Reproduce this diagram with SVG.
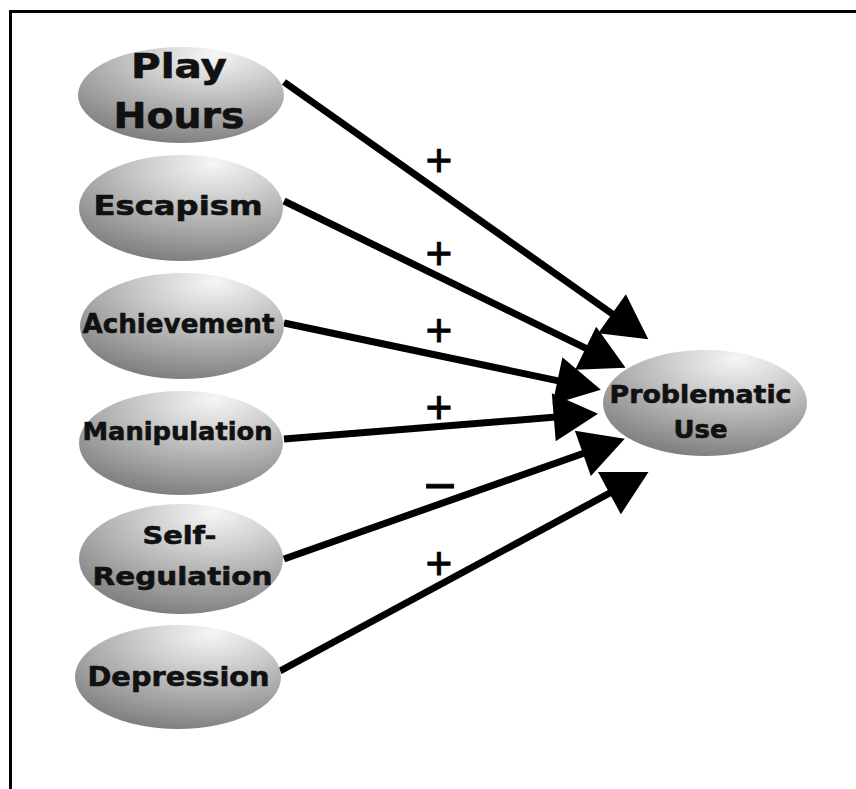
<svg xmlns="http://www.w3.org/2000/svg" width="856" height="789" viewBox="0 0 856 789">
  <defs>
    <radialGradient id="shade" cx="0.64" cy="0.12" r="0.95" fx="0.66" fy="0.08">
      <stop offset="0" stop-color="#f6f6f6"/>
      <stop offset="0.3" stop-color="#d3d3d3"/>
      <stop offset="0.7" stop-color="#a0a0a0"/>
      <stop offset="1" stop-color="#787878"/>
    </radialGradient>
    <marker id="head" markerUnits="userSpaceOnUse" markerWidth="60" markerHeight="60" viewBox="-20 -25 45 50" refX="0" refY="0" orient="auto">
      <path d="M20,0 L-17,-20 L-17,20 Z" fill="#000"/>
    </marker>
  </defs>
  <style>
    .node ellipse { fill: url(#shade); }
    .node text { font-family: "DejaVu Sans", "Liberation Sans", sans-serif; font-weight: bold; fill: #111; stroke: #111; stroke-width: 0.6; stroke-linejoin: round; text-anchor: middle; }
    .edge { stroke: #000; stroke-width: 7; fill: none; marker-end: url(#head); }
    .sign { font-family: "Liberation Sans", Arial, sans-serif; fill: #000; stroke: #000; stroke-width: 0.8; text-anchor: middle; }
  </style>

  <rect width="856" height="789" fill="#fff"/>
  <!-- frame (open at the right and bottom edges) -->
  <path d="M10.5,789 V11.5 H856" fill="none" stroke="#000" stroke-width="3"/>

  <!-- connectors -->
  <g id="connectors">
    <line class="edge" x1="284" y1="82" x2="628.7" y2="325.5"/>
    <line class="edge" x1="284" y1="201" x2="604" y2="357.2"/>
    <line class="edge" x1="284" y1="323" x2="577.4" y2="384.9"/>
    <line class="edge" x1="284" y1="439" x2="574.1" y2="415.6"/>
    <line class="edge" x1="284" y1="559" x2="602.1" y2="446.7"/>
    <line class="edge" x1="280" y1="671" x2="627.4" y2="483.5"/>
    <text class="sign" x="439" y="176" font-size="46">+</text>
    <text class="sign" x="439" y="269" font-size="46">+</text>
    <text class="sign" x="439" y="346" font-size="46">+</text>
    <text class="sign" x="439" y="423" font-size="46">+</text>
    <text class="sign" x="440" y="505" font-size="56">−</text>
    <text class="sign" x="439" y="579" font-size="46">+</text>
  </g>

  <g id="play-hours" class="node">
    <ellipse cx="181" cy="95" rx="103" ry="48"/>
    <text x="179" y="78" font-size="33" textLength="96" lengthAdjust="spacingAndGlyphs">Play</text>
    <text x="179" y="128" font-size="35" textLength="131" lengthAdjust="spacingAndGlyphs">Hours</text>
  </g>

  <g id="escapism" class="node">
    <ellipse cx="181" cy="208" rx="102" ry="53"/>
    <text x="178" y="215" font-size="27" textLength="169" lengthAdjust="spacingAndGlyphs">Escapism</text>
  </g>

  <g id="achievement" class="node">
    <ellipse cx="182" cy="326" rx="102" ry="53"/>
    <text x="178.5" y="333" font-size="26" textLength="192" lengthAdjust="spacingAndGlyphs">Achievement</text>
  </g>

  <g id="manipulation" class="node">
    <ellipse cx="181" cy="443" rx="102" ry="52"/>
    <text x="177.5" y="440" font-size="24" textLength="190" lengthAdjust="spacingAndGlyphs">Manipulation</text>
  </g>

  <g id="self-regulation" class="node">
    <ellipse cx="181" cy="559" rx="102" ry="55"/>
    <text x="179.5" y="544" font-size="24" textLength="74" lengthAdjust="spacingAndGlyphs">Self-</text>
    <text x="182.5" y="585" font-size="25" textLength="180" lengthAdjust="spacingAndGlyphs">Regulation</text>
  </g>

  <g id="depression" class="node">
    <ellipse cx="178" cy="677" rx="103" ry="52"/>
    <text x="178.5" y="686" font-size="26" textLength="182" lengthAdjust="spacingAndGlyphs">Depression</text>
  </g>

  <g id="problematic-use" class="node">
    <ellipse cx="705" cy="403" rx="102" ry="53"/>
    <text x="700.5" y="403" font-size="24" textLength="182" lengthAdjust="spacingAndGlyphs">Problematic</text>
    <text x="700.5" y="438" font-size="24" textLength="54" lengthAdjust="spacingAndGlyphs">Use</text>
  </g>
</svg>
